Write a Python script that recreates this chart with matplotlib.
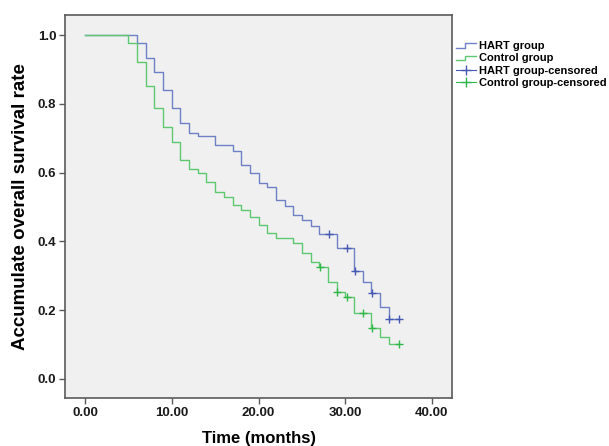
import matplotlib
matplotlib.use("Agg")
import matplotlib.pyplot as plt
from matplotlib.lines import Line2D
from matplotlib.legend_handler import HandlerBase

# Kaplan-Meier steps (time in months, survival rate)
hart_t = [0, 6, 7, 8, 9, 10, 11, 12, 13, 15, 17, 18, 19, 20, 21, 22, 23, 24,
          25, 26, 27, 29, 31, 32, 33, 34, 35, 36.15]
hart_s = [1.0, 0.976, 0.932, 0.893, 0.840, 0.787, 0.743, 0.716, 0.706, 0.679,
          0.663, 0.622, 0.599, 0.571, 0.558, 0.520, 0.502, 0.476, 0.461, 0.445,
          0.421, 0.380, 0.315, 0.283, 0.249, 0.210, 0.173, 0.173]
hart_cens_t = [28.1, 30.2, 31.15, 33.1, 35.0, 36.15]
hart_cens_s = [0.421, 0.380, 0.315, 0.249, 0.173, 0.173]

ctrl_t = [0, 5, 6, 7, 8, 9, 10, 11, 12, 13, 14, 15, 16, 17, 18, 19, 20, 21,
          22, 24, 25, 26, 27, 28, 29, 30, 31, 33, 34, 35, 36.15]
ctrl_s = [1.0, 0.976, 0.922, 0.852, 0.787, 0.733, 0.690, 0.637, 0.611, 0.598,
          0.574, 0.545, 0.530, 0.506, 0.490, 0.472, 0.448, 0.424, 0.410, 0.394,
          0.366, 0.341, 0.326, 0.283, 0.254, 0.239, 0.191, 0.149, 0.123, 0.101,
          0.101]
ctrl_cens_t = [27.1, 29.1, 30.2, 32.1, 33.1, 36.15]
ctrl_cens_s = [0.326, 0.254, 0.239, 0.191, 0.149, 0.101]

x_ticks = [0, 10, 20, 30, 40]
y_ticks = [0.0, 0.2, 0.4, 0.6, 0.8, 1.0]
legend_labels = ["HART group", "Control group",
                 "HART group-censored", "Control group-censored"]

BLUE_LINE = "#6e80c6"
GREEN_LINE = "#5ec870"
BLUE_MARK = "#4558b2"
GREEN_MARK = "#2fb84a"
FRAME = "#5a5a5a"

plt.rcParams["font.family"] = ["Liberation Sans", "DejaVu Sans"]
plt.rcParams["font.weight"] = "bold"


class StepHandler(HandlerBase):
    """Legend glyph shaped like a small survival step."""

    def create_artists(self, legend, orig_handle, xdescent, ydescent,
                       width, height, fontsize, trans):
        x0, x1 = -xdescent, -xdescent + width
        xm = x0 + 0.45 * width
        ylo, yhi = -ydescent + 0.15 * height, -ydescent + 0.75 * height
        line = Line2D([x0, xm, xm, x1], [ylo, ylo, yhi, yhi],
                      color=orig_handle.get_color(),
                      linewidth=orig_handle.get_linewidth(), transform=trans)
        return [line]


fig = plt.figure(figsize=(6.09, 4.46), dpi=100)
fig.patch.set_facecolor("white")
ax = fig.add_axes([0.107, 0.108, 0.635, 0.858])
ax.set_facecolor("#f0f0f0")

h1, = ax.step(hart_t, hart_s, where="post", color=BLUE_LINE, linewidth=1.0)
h2, = ax.step(ctrl_t, ctrl_s, where="post", color=GREEN_LINE, linewidth=1.0)
ax.plot(hart_cens_t, hart_cens_s, linestyle="none", marker="+",
        markersize=6, markeredgewidth=1.0, color=BLUE_MARK)
ax.plot(ctrl_cens_t, ctrl_cens_s, linestyle="none", marker="+",
        markersize=6, markeredgewidth=1.0, color=GREEN_MARK)

# censored legend glyph: a short line crossed by a "+"
h3 = Line2D([], [], color=BLUE_MARK, linewidth=0.8, marker="+",
            markersize=7, markeredgewidth=1.0)
h4 = Line2D([], [], color=GREEN_MARK, linewidth=0.8, marker="+",
            markersize=7, markeredgewidth=1.0)

ax.set_xlim(-2.3, 42.3)
ax.set_ylim(-0.055, 1.058)
ax.set_xticks(x_ticks)
ax.set_xticklabels([f"{v:.2f}" for v in x_ticks])
ax.set_yticks(y_ticks)
ax.set_yticklabels([f"{v:.1f}" for v in y_ticks])
ax.tick_params(axis="both", direction="out", length=4.5, width=1.0,
               color=FRAME, labelsize=9.5, labelcolor="#1a1a1a", pad=2)
for spine in ax.spines.values():
    spine.set_color(FRAME)
    spine.set_linewidth(1.2)

ax.set_xlabel("Time (months)", fontsize=12, fontweight="bold", labelpad=9)
ax.set_ylabel("Accumulate overall survival rate", fontsize=13.5,
              fontweight="bold", labelpad=6)

fig.legend([h1, h2, h3, h4], legend_labels, loc="upper left",
           bbox_to_anchor=(0.741, 0.918), frameon=False, fontsize=8,
           handlelength=1.8, handletextpad=0.3, labelspacing=0.22,
           borderaxespad=0, numpoints=1,
           handler_map={h1: StepHandler(), h2: StepHandler()})

fig.savefig("out.png", dpi=100)
